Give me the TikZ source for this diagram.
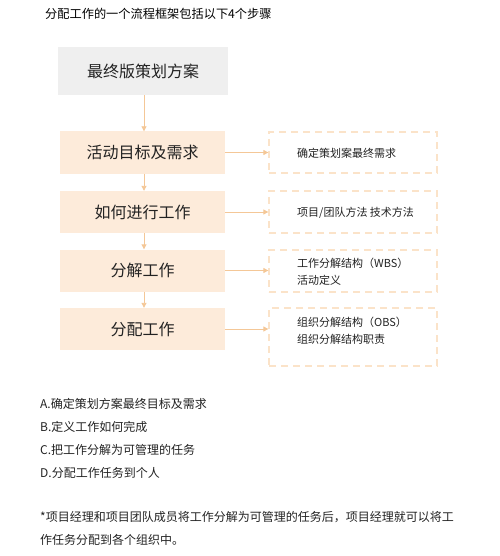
\documentclass[tikz,border=0pt]{standalone}
\usepackage{fontspec}
\setmainfont{Noto Sans CJK SC}
\usetikzlibrary{arrows.meta}
\definecolor{grayfill}{HTML}{EFEFEF}
\definecolor{orfill}{HTML}{FDEBDA}
\definecolor{arr}{HTML}{F4C797}
\definecolor{dashc}{HTML}{FBE3C9}
\definecolor{txt}{HTML}{222222}
\tikzset{
  mainbox/.style={fill=orfill, draw=none, minimum width=165pt, minimum height=42pt, inner sep=0pt, font=\fontsize{16}{18}\selectfont, text=txt},
  topbox/.style={fill=grayfill, draw=none, minimum width=170pt, minimum height=48pt, inner sep=0pt, font=\fontsize{16}{18}\selectfont, text=txt},
  dbox/.style={draw=dashc, line width=1.3pt, dash pattern=on 7pt off 5pt, minimum width=168pt, inner sep=0pt},
  dtext/.style={anchor=west, font=\fontsize{11}{17}\selectfont, text=txt, align=left, inner sep=0pt},
  conn/.style={draw=arr, line width=0.9pt, -{Triangle[length=5pt,width=5pt]}},
  body/.style={anchor=west, font=\fontsize{12}{14}\selectfont, text=txt, inner sep=0pt},
}
\begin{document}
\begin{tikzpicture}[x=1pt,y=-1pt]
\useasboundingbox (0,0) rectangle (499,556);
\node[body, font=\fontsize{12.2}{14}\selectfont, text=black] (title) at (45,14) {分配工作的一个流程框架包括以下4个步骤};
\node[topbox] (top) at (143,71) {最终版策划方案};
\node[mainbox] (s1) at (142.5,152.5) {活动目标及需求};
\node[mainbox] (s2) at (142.5,212) {如何进行工作};
\node[mainbox] (s3) at (142.5,270.5) {分解工作};
\node[mainbox] (s4) at (142.5,329) {分配工作};
\node[dbox, minimum height=41pt] (d1) at (353,152.5) {};
\node[dbox, minimum height=42pt] (d2) at (353,212) {};
\node[dbox, minimum height=42pt] (d3) at (353,271) {};
\node[dbox, minimum height=58pt] (d4) at (353,337) {};
\node[dtext] (t1) at (297,153.5) {确定策划案最终需求};
\node[dtext] (t2) at (297,212.5) {项目/团队方法 技术方法};
\node[dtext] (t3) at (297,272) {工作分解结构（WBS）\\活动定义};
\node[dtext] (t4) at (297,331) {组织分解结构（OBS）\\组织分解结构职责};
\draw[conn] (top.south -| 144,0) -- (s1.north -| 144,0);
\draw[conn] (s1.south -| 144,0) -- (s2.north -| 144,0);
\draw[conn] (s2.south -| 144,0) -- (s3.north -| 144,0);
\draw[conn] (s3.south -| 144,0) -- (s4.north -| 144,0);
\draw[conn] (s1.east) -- (s1.east -| d1.west);
\draw[conn] (s2.east) -- (s2.east -| d2.west);
\draw[conn] (s3.east) -- (s3.east -| d3.west);
\draw[conn] (s4.east) -- (s4.east -| d4.west);
\node[body] (a) at (40,404) {A.确定策划方案最终目标及需求};
\node[body] (b) at (40,427) {B.定义工作如何完成};
\node[body] (c) at (40,450) {C.把工作分解为可管理的任务};
\node[body] (d) at (40,473) {D.分配工作任务到个人};
\node[body] (n1) at (40,517) {*项目经理和项目团队成员将工作分解为可管理的任务后，项目经理就可以将工};
\node[body] (n2) at (40,540) {作任务分配到各个组织中。};
\end{tikzpicture}
\end{document}
